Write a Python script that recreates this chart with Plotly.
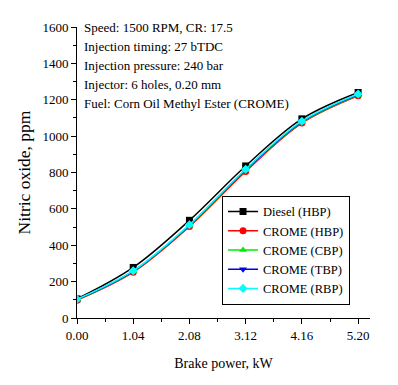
import plotly.graph_objects as go

power = [0.00, 1.04, 2.08, 3.12, 4.16, 5.20]
tick_labels = ["0.00", "1.04", "2.08", "3.12", "4.16", "5.20"]
diesel_hbp = [105, 278, 537, 836, 1095, 1240]
crome_hbp = [98, 252, 503, 806, 1072, 1222]
crome_cbp = [100, 256, 508, 812, 1076, 1226]
crome_tbp = [102, 258, 510, 815, 1079, 1229]
crome_rbp = [103, 260, 513, 818, 1082, 1232]

series = [
    ("Diesel (HBP)", diesel_hbp, "black", "square"),
    ("CROME (HBP)", crome_hbp, "red", "circle"),
    ("CROME (CBP)", crome_cbp, "#00ee00", "triangle-up"),
    ("CROME (TBP)", crome_tbp, "#0000ee", "triangle-down"),
    ("CROME (RBP)", crome_rbp, "cyan", "diamond"),
]

fig = go.Figure()
for name, vals, col, sym in series:
    fig.add_trace(go.Scatter(
        x=power, y=vals, name=name, mode="lines+markers",
        line=dict(color=col, width=1.5, shape="spline"),
        marker=dict(color=col, symbol=sym, size=7),
    ))

font = "Liberation Serif"
fig.update_layout(
    width=398, height=385,
    margin=dict(l=69, r=36, t=16, b=75),
    paper_bgcolor="white", plot_bgcolor="white",
    font=dict(family=font, size=13, color="black"),
    showlegend=True,
    legend=dict(
        x=0.495, y=0.42, xanchor="left", yanchor="top",
        bgcolor="white", bordercolor="black", borderwidth=1,
        font=dict(family=font, size=12.5, color="black"), itemwidth=30,
    ),
    xaxis=dict(
        range=[0, 5.42], tickvals=power, ticktext=tick_labels,
        showline=True, linecolor="black", linewidth=1,
        ticks="outside", ticklen=5, tickcolor="black",
        showgrid=False, zeroline=False,
        minor=dict(dtick=0.52, tick0=0, ticks="outside", ticklen=3, tickcolor="black", showgrid=False),
        title=dict(text="Brake power, kW", font=dict(family=font, size=14, color="black"), standoff=16),
        tickfont=dict(family=font, size=13, color="black"),
    ),
    yaxis=dict(
        range=[0, 1600], dtick=200,
        showline=True, linecolor="black", linewidth=1,
        ticks="outside", ticklen=5, tickcolor="black",
        showgrid=False, zeroline=False,
        minor=dict(dtick=100, ticks="outside", ticklen=3, tickcolor="black", showgrid=False),
        title=dict(text="Nitric oxide, ppm", font=dict(family=font, size=17.5, color="black"), standoff=7),
        tickfont=dict(family=font, size=13, color="black"),
    ),
)

notes = [
    "Speed: 1500 RPM, CR: 17.5",
    "Injection timing: 27 bTDC",
    "Injection pressure: 240 bar",
    "Injector: 6 holes, 0.20 mm",
    "Fuel: Corn Oil Methyl Ester (CROME)",
]
for i, t in enumerate(notes):
    fig.add_annotation(
        text=t, xref="paper", yref="paper", x=0.017, y=1 - i * 0.066,
        xanchor="left", yanchor="middle", showarrow=False,
        font=dict(family=font, size=13, color="black"),
    )

fig.write_html("out.html")
